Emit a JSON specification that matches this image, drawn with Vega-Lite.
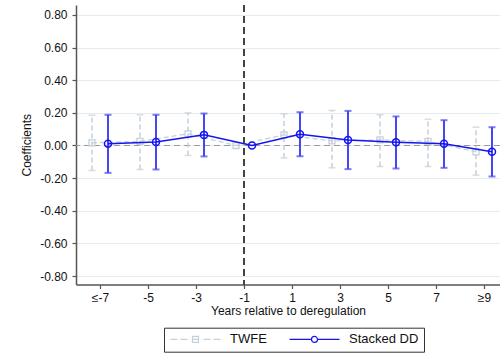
{
  "$schema": "https://vega.github.io/schema/vega-lite/v6.json",
  "autosize": {"type": "none"},
  "padding": {"left": 76, "top": 5, "right": 0, "bottom": 69.5},
  "width": 424,
  "height": 279.5,
  "background": "white",
  "config": {
    "view": {"stroke": null},
    "font": "Liberation Sans",
    "axis": {"labelFont": "Liberation Sans", "titleFont": "Liberation Sans", "labelFontSize": 12, "titleFontSize": 12, "titleFontWeight": "normal", "labelColor": "#111", "titleColor": "#111", "domainColor": "#555", "domainWidth": 1.5, "tickColor": "#555", "tickSize": 4, "tickWidth": 1.2, "labelOverlap": false},
    "axisY": {"tickCount": 9, "grid": true, "gridColor": "#e3ebef", "gridWidth": 1, "labelPadding": 5, "titlePadding": 6, "labelExpr": "replace(format(datum.value, '.2f'), '−', '-')"}
  },
  "data": {
    "values": [
      {"model": "TWFE", "t": -7, "coef": 0.016, "lo": -0.153, "hi": 0.186},
      {"model": "TWFE", "t": -5, "coef": 0.025, "lo": -0.147, "hi": 0.188},
      {"model": "TWFE", "t": -3, "coef": 0.071, "lo": -0.061, "hi": 0.2},
      {"model": "TWFE", "t": -1, "coef": 0.0, "lo": null, "hi": null},
      {"model": "TWFE", "t": 1, "coef": 0.065, "lo": -0.076, "hi": 0.194},
      {"model": "TWFE", "t": 3, "coef": 0.028, "lo": -0.137, "hi": 0.215},
      {"model": "TWFE", "t": 5, "coef": 0.034, "lo": -0.129, "hi": 0.188},
      {"model": "TWFE", "t": 7, "coef": 0.025, "lo": -0.129, "hi": 0.161},
      {"model": "TWFE", "t": 9, "coef": -0.039, "lo": -0.182, "hi": 0.112},
      {"model": "Stacked DD", "t": -7, "coef": 0.01, "lo": -0.168, "hi": 0.188},
      {"model": "Stacked DD", "t": -5, "coef": 0.022, "lo": -0.147, "hi": 0.188},
      {"model": "Stacked DD", "t": -3, "coef": 0.065, "lo": -0.067, "hi": 0.196},
      {"model": "Stacked DD", "t": -1, "coef": 0.0, "lo": null, "hi": null},
      {"model": "Stacked DD", "t": 1, "coef": 0.069, "lo": -0.066, "hi": 0.204},
      {"model": "Stacked DD", "t": 3, "coef": 0.033, "lo": -0.145, "hi": 0.212},
      {"model": "Stacked DD", "t": 5, "coef": 0.02, "lo": -0.141, "hi": 0.178},
      {"model": "Stacked DD", "t": 7, "coef": 0.01, "lo": -0.137, "hi": 0.155},
      {"model": "Stacked DD", "t": 9, "coef": -0.039, "lo": -0.19, "hi": 0.112}
    ]
  },
  "encoding": {
    "x": {"field": "t", "type": "quantitative", "scale": {"domain": [-8, 9.667], "nice": false, "zero": false},
      "axis": {"values": [-7, -5, -3, -1, 1, 3, 5, 7, 9], "grid": false, "title": "Years relative to deregulation", "labelPadding": 4, "titlePadding": 2,
        "labelExpr": "datum.value == -7 ? '≤-7' : datum.value == 9 ? '≥9' : replace('' + datum.value, '−', '-')"}}
  },
  "layer": [
    {
      "mark": {"type": "rule", "color": "#999999", "strokeDash": [6, 4], "strokeWidth": 1.2},
      "encoding": {"y": {"datum": 0, "type": "quantitative", "scale": {"domain": [-0.852, 0.861], "nice": false, "zero": false},
        "axis": {"title": "Coefficients"}}, "x": null}
    },
    {
      "mark": {"type": "rule", "color": "#444444", "strokeDash": [7, 4], "strokeWidth": 1.8},
      "encoding": {"x": {"datum": -1, "type": "quantitative"}}
    },
    {
      "transform": [{"filter": "datum.model == 'TWFE'"}],
      "mark": {"type": "rule", "color": "#c6d0d9", "strokeDash": [5, 3], "strokeWidth": 1.5, "xOffset": -8},
      "encoding": {"y": {"field": "lo", "type": "quantitative", "axis": {"title": "Coefficients"}}, "y2": {"field": "hi"}}
    },
    {
      "transform": [{"filter": "datum.model == 'TWFE'"}],
      "mark": {"type": "tick", "orient": "horizontal", "color": "#c6d0d9", "size": 7, "thickness": 1.5, "xOffset": -8},
      "encoding": {"y": {"field": "lo", "type": "quantitative", "axis": {"title": "Coefficients"}}}
    },
    {
      "transform": [{"filter": "datum.model == 'TWFE'"}],
      "mark": {"type": "tick", "orient": "horizontal", "color": "#c6d0d9", "size": 7, "thickness": 1.5, "xOffset": -8},
      "encoding": {"y": {"field": "hi", "type": "quantitative", "axis": {"title": "Coefficients"}}}
    },
    {
      "transform": [{"filter": "datum.model == 'TWFE'"}],
      "mark": {"type": "line", "strokeDash": [5, 3], "strokeWidth": 1.3, "xOffset": -8},
      "encoding": {"y": {"field": "coef", "type": "quantitative", "axis": {"title": "Coefficients"}},
        "color": {"field": "model", "type": "nominal", "scale": {"domain": ["TWFE", "Stacked DD"], "range": ["#c6d0d9", "#1414f0"]},
          "legend": {"title": null, "orient": "none", "legendX": 88, "legendY": 322.7, "direction": "horizontal",
            "strokeColor": "#333333", "padding": 5, "symbolSize": 100, "labelOffset": 48, "columnPadding": 20,
            "labelFont": "Liberation Sans", "labelFontSize": 13, "labelColor": "#111",
            "encode": {"symbols": {"update": {
              "shape": {"signal": "datum.value == 'TWFE' ? 'M-1,0H0.4M1,0H2.4M3.4,-0.6H4.6V0.6H3.4ZM3.4,0H4.6M5.6,0H7M7.6,0H9' : 'M-1,0H3.4M4.6,0H9M3.4,0A0.6,0.6 0 1,0 4.6,0A0.6,0.6 0 1,0 3.4,0'"},
              "fill": {"value": "transparent"},
              "strokeWidth": {"value": 1.2},
              "strokeDash": {"value": []}
            }}}}}}
    },
    {
      "transform": [{"filter": "datum.model == 'TWFE'"}],
      "mark": {"type": "point", "shape": "square", "filled": false, "size": 36, "color": "#c6d0d9", "strokeWidth": 1.3, "xOffset": -8, "opacity": 1},
      "encoding": {"y": {"field": "coef", "type": "quantitative", "axis": {"title": "Coefficients"}}}
    },
    {
      "transform": [{"filter": "datum.model == 'Stacked DD'"}],
      "mark": {"type": "rule", "color": "#4646f5", "strokeWidth": 2, "xOffset": 8},
      "encoding": {"y": {"field": "lo", "type": "quantitative", "axis": {"title": "Coefficients"}}, "y2": {"field": "hi"}}
    },
    {
      "transform": [{"filter": "datum.model == 'Stacked DD'"}],
      "mark": {"type": "tick", "orient": "horizontal", "color": "#4646f5", "size": 7, "thickness": 2, "xOffset": 8},
      "encoding": {"y": {"field": "lo", "type": "quantitative", "axis": {"title": "Coefficients"}}}
    },
    {
      "transform": [{"filter": "datum.model == 'Stacked DD'"}],
      "mark": {"type": "tick", "orient": "horizontal", "color": "#4646f5", "size": 7, "thickness": 2, "xOffset": 8},
      "encoding": {"y": {"field": "hi", "type": "quantitative", "axis": {"title": "Coefficients"}}}
    },
    {
      "transform": [{"filter": "datum.model == 'Stacked DD'"}],
      "mark": {"type": "line", "strokeWidth": 1.5, "xOffset": 8},
      "encoding": {"y": {"field": "coef", "type": "quantitative", "axis": {"title": "Coefficients"}},
        "color": {"field": "model", "type": "nominal"}}
    },
    {
      "transform": [{"filter": "datum.model == 'Stacked DD'"}],
      "mark": {"type": "point", "shape": "circle", "filled": false, "size": 49, "color": "#1414f0", "strokeWidth": 1.5, "xOffset": 8, "opacity": 1},
      "encoding": {"y": {"field": "coef", "type": "quantitative", "axis": {"title": "Coefficients"}}}
    }
  ]
}
